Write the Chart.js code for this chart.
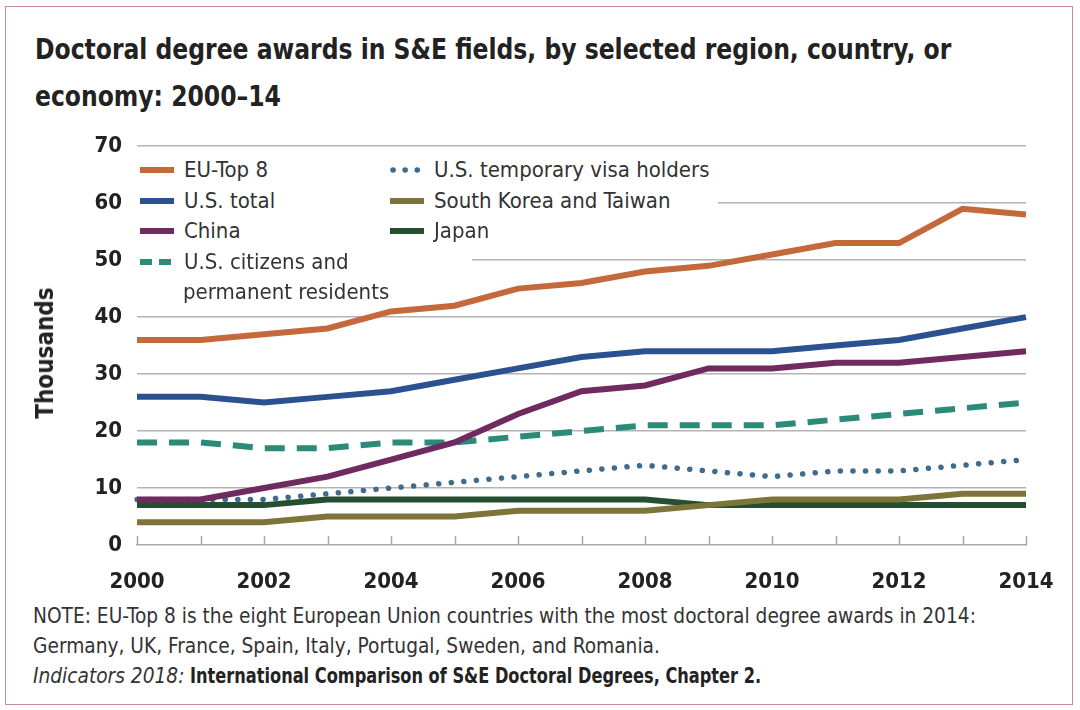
<!DOCTYPE html>
<html>
<head>
<meta charset="utf-8">
<script src="https://cdn.jsdelivr.net/npm/chart.js@4.4.1/dist/chart.umd.min.js"></script>
<style>
  html, body { margin: 0; padding: 0; background: #fff; }
  body { width: 1080px; height: 710px; position: relative; overflow: hidden;
         font-family: "Liberation Sans Narrow", "DejaVu Sans Condensed", "Arial Narrow", sans-serif; color: #2b2b2b; }
  .frame { position: absolute; left: 5px; top: 6px; width: 1068px; height: 699px; border: 1.5px solid #c98aa3; box-sizing: border-box; }
  h1 { position: absolute; left: 35px; top: 26px; margin: 0; font-size: 29px; line-height: 47px; font-weight: bold; color: #222;
       transform: scaleX(0.9); transform-origin: left top; white-space: nowrap; }
  #chart { position: absolute; left: 0; top: 118px; }
  .ytitle { position: absolute; left: 45px; top: 353px; transform: translate(-50%, -50%) rotate(-90deg);
            font-size: 24px; font-weight: bold; color: #222; white-space: nowrap; }
  .legend { position: absolute; background: #fff; font-size: 22px; color: #333; }
  .legend .row { height: 30.5px; line-height: 30.5px; white-space: nowrap; display: flex; align-items: center; }
  .legend svg { flex: none; margin-right: 10px; }
  .legend .indent { padding-left: 43px; }
  .note { position: absolute; left: 33px; top: 601px; font-size: 20.7px; line-height: 30px; color: #333; white-space: nowrap; }
  .note .src { display: inline-block; font-weight: bold; color: #222; transform: scaleX(0.87); transform-origin: left center; }
</style>
</head>
<body>
<div class="frame"></div>
<h1>Doctoral degree awards in S&amp;E fields, by selected region, country, or<br>economy: 2000–14</h1>
<canvas id="chart" width="1080" height="482"></canvas>
<div class="ytitle">Thousands</div>
<div class="legend" id="leg1" style="left:134px; top:154px; width:338px; height:120px;"></div>
<div class="legend" id="leg2" style="left:386px; top:154px; width:332px; height:92px;"></div>
<div class="note">NOTE: EU-Top 8 is the eight European Union countries with the most doctoral degree awards in 2014:<br>
Germany, UK, France, Spain, Italy, Portugal, Sweden, and Romania.<br>
<i>Indicators 2018:</i> <span class="src">International Comparison of S&amp;E Doctoral Degrees, Chapter 2.</span></div>

<script>
// ── Data (thousands) ───────────────────────────────
const years = ["2000","2001","2002","2003","2004","2005","2006","2007","2008","2009","2010","2011","2012","2013","2014"];
const euTop8      = [36, 36, 37, 38, 41, 42, 45, 46, 48, 49, 51, 53, 53, 59, 58];
const usTotal     = [26, 26, 25, 26, 27, 29, 31, 33, 34, 34, 34, 35, 36, 38, 40];
const china       = [ 8,  8, 10, 12, 15, 18, 23, 27, 28, 31, 31, 32, 32, 33, 34];
const usCitizens  = [18, 18, 17, 17, 18, 18, 19, 20, 21, 21, 21, 22, 23, 24, 25];
const usTempVisa  = [ 8,  8,  8,  9, 10, 11, 12, 13, 14, 13, 12, 13, 13, 14, 15];
const korTaiwan   = [ 4,  4,  4,  5,  5,  5,  6,  6,  6,  7,  8,  8,  8,  9,  9];
const japan       = [ 7,  7,  7,  8,  8,  8,  8,  8,  8,  7,  7,  7,  7,  7,  7];
const yTicks      = [0, 10, 20, 30, 40, 50, 60, 70];

const COLORS = {
  eu:    "#c4693b",
  us:    "#2c5190",
  china: "#6f2a5f",
  cit:   "#2b8a78",
  visa:  "#3f6b8c",
  kor:   "#7c7439",
  japan: "#244f30",
};

const series = [
  { label: "EU-Top 8",                 data: euTop8,     color: COLORS.eu,    style: "solid" },
  { label: "U.S. total",               data: usTotal,    color: COLORS.us,    style: "solid" },
  { label: "China",                    data: china,      color: COLORS.china, style: "solid" },
  { label: "U.S. citizens and|permanent residents", data: usCitizens, color: COLORS.cit, style: "dash" },
  { label: "U.S. temporary visa holders", data: usTempVisa, color: COLORS.visa, style: "dot" },
  { label: "South Korea and Taiwan",   data: korTaiwan,  color: COLORS.kor,   style: "solid" },
  { label: "Japan",                    data: japan,      color: COLORS.japan, style: "solid" },
];

// ── Legend (HTML) ──────────────────────────────────
function swatch(s) {
  const w = 34;
  if (s.style === "dash")
    return `<svg width="${w}" height="10"><line x1="0" y1="5" x2="${w}" y2="5" stroke="${s.color}" stroke-width="6" stroke-dasharray="12 7"/></svg>`;
  if (s.style === "dot")
    return `<svg width="${w}" height="10"><line x1="3" y1="5" x2="${w}" y2="5" stroke="${s.color}" stroke-width="5.5" stroke-linecap="round" stroke-dasharray="0.1 12"/></svg>`;
  return `<svg width="${w}" height="10"><line x1="0" y1="5" x2="${w}" y2="5" stroke="${s.color}" stroke-width="6"/></svg>`;
}
function legendHTML(list) {
  return list.map(s => {
    const parts = s.label.split("|");
    let html = `<div class="row">${swatch(s)}<span>${parts[0]}</span></div>`;
    if (parts[1]) html += `<div class="row indent">${parts[1]}</div>`;
    return html;
  }).join("");
}
document.getElementById("leg1").innerHTML = `<div style="padding:1px 0 0 6px">${legendHTML(series.slice(0, 4))}</div>`;
document.getElementById("leg2").innerHTML = `<div style="padding:1px 0 0 4px">${legendHTML(series.slice(4))}</div>`;

// ── Chart ──────────────────────────────────────────
const upTicks = {
  id: "upTicks",
  afterDatasetsDraw(chart) {
    const { ctx, scales: { x, y } } = chart;
    const base = y.getPixelForValue(0);
    ctx.save();
    ctx.strokeStyle = "#a8a8a8";
    ctx.lineWidth = 1.5;
    years.forEach((_, i) => {
      const px = Math.round(x.getPixelForValue(i)) + 0.5;
      ctx.beginPath();
      ctx.moveTo(px, base);
      ctx.lineTo(px, base - 9);
      ctx.stroke();
    });
    ctx.restore();
  }
};

const FONT = "'Liberation Sans Narrow', 'DejaVu Sans Condensed', 'Arial Narrow', sans-serif";

new Chart(document.getElementById("chart"), {
  type: "line",
  data: {
    labels: years,
    datasets: series.map(s => ({
      label: s.label.replace("|", " "),
      data: s.data,
      borderColor: s.color,
      backgroundColor: s.color,
      borderWidth: s.style === "dot" ? 5.5 : 6,
      borderDash: s.style === "dash" ? [20, 12] : s.style === "dot" ? [0.1, 12.5] : [],
      borderCapStyle: s.style === "dot" ? "round" : "butt",
      borderJoinStyle: "miter",
      pointRadius: 0,
      tension: 0,
      fill: false,
    })),
  },
  options: {
    responsive: false,
    animation: false,
    events: [],
    layout: { padding: { top: 6, right: 54, left: 0, bottom: 0 } },
    plugins: { legend: { display: false }, tooltip: { enabled: false } },
    scales: {
      x: {
        offset: false,
        grid: { display: false, drawTicks: false },
        border: { display: true, color: "#a8a8a8", width: 1.5 },
        ticks: {
          autoSkip: false, maxRotation: 0, padding: 24,
          color: "#222",
          font: { family: FONT, size: 22, weight: "bold" },
          callback: (v, i) => (i % 2 === 0 ? years[i] : ""),
        },
        afterFit: s => { s.height = 55; },
      },
      y: {
        min: 0, max: 70,
        afterBuildTicks: s => { s.ticks = yTicks.map(v => ({ value: v })); },
        grid: {
          drawTicks: false,
          color: ctx => (ctx.tick && ctx.tick.value === 0 ? "rgba(0,0,0,0)" : "#b3b3b3"),
          lineWidth: 1.5,
        },
        border: { display: false },
        ticks: {
          padding: 15,
          color: "#222",
          font: { family: FONT, size: 22, weight: "bold" },
        },
        afterFit: s => { s.width = 137; },
      },
    },
  },
  plugins: [upTicks],
});
</script>
</body>
</html>
